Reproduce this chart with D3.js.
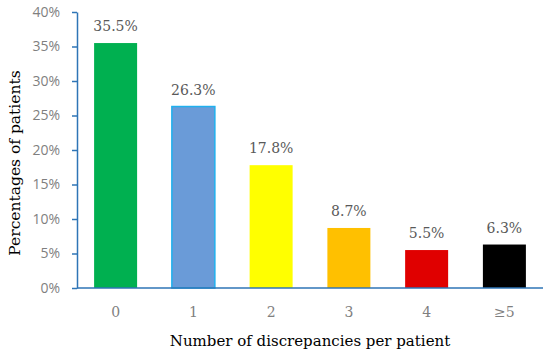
<!doctype html>
<html>
<head>
<meta charset="utf-8">
<script src="https://d3js.org/d3.v7.min.js"></script>
<style>
  body { margin: 0; background: #fff; }
</style>
</head>
<body>
<svg id="chart" width="550" height="358"></svg>
<script>
const categories = ["0", "1", "2", "3", "4", "\u22655"];
const percentages = [35.5, 26.3, 17.8, 8.7, 5.5, 6.3];
const barColors = ["#00b050", "#6a9bd8", "#ffff00", "#ffc000", "#e00000", "#000000"];
const yTicks = [0, 5, 10, 15, 20, 25, 30, 35, 40];

const svg = d3.select("#chart");
const plotLeft = 77, plotRight = 543, plotTop = 12, plotBottom = 288;

const x = d3.scaleBand().domain(categories).range([plotLeft, plotRight]).paddingInner(0.447).paddingOuter(0.22);
const y = d3.scaleLinear().domain([0, 40]).range([plotBottom, plotTop]);

const axisColor = "#2e75b6";

// bars
svg.selectAll("rect.bar")
  .data(percentages)
  .join("rect")
  .attr("class", "bar")
  .attr("x", (d, i) => x(categories[i]))
  .attr("y", d => y(d))
  .attr("width", x.bandwidth())
  .attr("height", d => plotBottom - y(d))
  .attr("fill", (d, i) => barColors[i])
  .attr("stroke", (d, i) => i === 1 ? "#1fb0ee" : "none")
  .attr("stroke-width", 1.5);

// value labels
svg.selectAll("text.val")
  .data(percentages)
  .join("text")
  .attr("class", "val")
  .attr("x", (d, i) => x(categories[i]) + x.bandwidth() / 2)
  .attr("y", d => y(d) - 12)
  .attr("text-anchor", "middle")
  .attr("font-family", "'DejaVu Serif', serif")
  .attr("font-size", 14)
  .attr("fill", "#595959")
  .text(d => d.toFixed(1) + "%");

// y axis
const yAxis = svg.append("g")
  .attr("transform", `translate(${plotLeft},0)`)
  .call(d3.axisLeft(y).tickValues(yTicks).tickFormat(d => d + "%").tickSize(5).tickSizeOuter(0));
yAxis.select(".domain").attr("stroke", axisColor).attr("stroke-width", 1.5);
yAxis.selectAll(".tick line").attr("stroke", axisColor).attr("stroke-width", 1.5);
yAxis.selectAll(".tick text")
  .attr("font-family", "'Open Sans', sans-serif")
  .attr("font-size", 14)
  .attr("fill", "#7f7f7f")
  .attr("x", -17);

// x axis
const xAxis = svg.append("g")
  .attr("transform", `translate(0,${plotBottom})`)
  .call(d3.axisBottom(x).tickSize(0).tickSizeOuter(0));
xAxis.select(".domain").attr("stroke", axisColor).attr("stroke-width", 1.5)
  .attr("d", `M${plotLeft},0H${plotRight}`);
xAxis.selectAll(".tick text")
  .attr("font-family", "'DejaVu Serif', serif")
  .attr("font-size", 14)
  .attr("fill", "#7f7f7f")
  .attr("y", 19)
  .attr("dy", "0.71em");

// titles
svg.append("text")
  .attr("x", (plotLeft + plotRight) / 2)
  .attr("y", 346)
  .attr("text-anchor", "middle")
  .attr("font-family", "'DejaVu Serif', serif")
  .attr("font-size", 15)
  .attr("fill", "#000")
  .text("Number of discrepancies per patient");

svg.append("text")
  .attr("transform", "translate(20,163) rotate(-90)")
  .attr("text-anchor", "middle")
  .attr("font-family", "'DejaVu Serif', serif")
  .attr("font-size", 15.5)
  .attr("fill", "#000")
  .text("Percentages of patients");
</script>
</body>
</html>
